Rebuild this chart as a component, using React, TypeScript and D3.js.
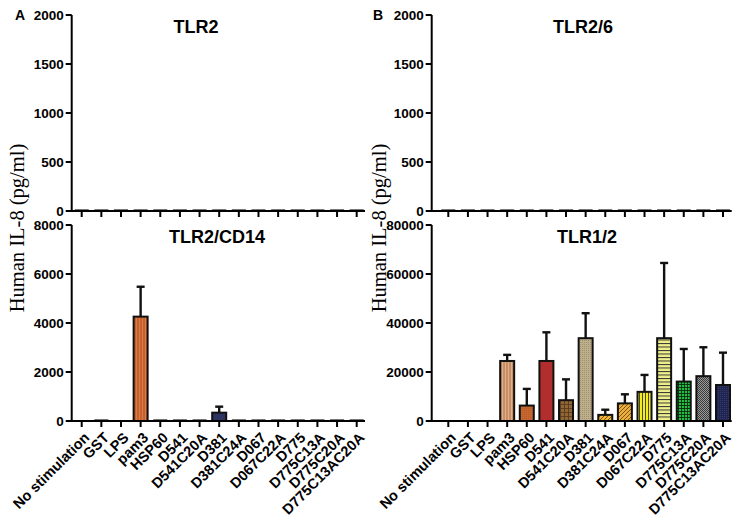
import React from 'react';
import * as d3 from 'd3';

const categories = ['No stimulation', 'GST', 'LPS', 'pam3', 'HSP60', 'D541', 'D541C20A', 'D381', 'D381C24A', 'D067', 'D067C22A', 'D775', 'D775C13A', 'D775C20A', 'D775C13AC20A'];

const tlr2Values = [8, 9, 7, 14, 8, 9, 8, 9, 8, 8, 9, 8, 8, 9, 8];
const tlr2Errors = [0, 0, 0, 0, 0, 0, 0, 0, 0, 0, 0, 0, 0, 0, 0];
const tlr26Values = [8, 8, 8, 9, 8, 8, 8, 8, 8, 8, 8, 8, 8, 8, 8];
const tlr26Errors = [0, 0, 0, 0, 0, 0, 0, 0, 0, 0, 0, 0, 0, 0, 0];
const tlr2cd14Values = [0, 25, 0, 4260, 20, 20, 20, 340, 20, 20, 20, 20, 20, 20, 20];
const tlr2cd14Errors = [0, 0, 0, 1220, 0, 0, 0, 245, 0, 0, 0, 0, 0, 0, 0];
const tlr12Values = [0, 0, 0, 24500, 6300, 24500, 8500, 33800, 2500, 7200, 11900, 33800, 16100, 18300, 14700];
const tlr12Errors = [0, 0, 0, 2500, 6800, 11700, 8500, 10200, 2100, 3700, 6900, 30700, 13300, 11800, 13200];

const smallTicks = [0, 500, 1000, 1500, 2000];
const cd14Ticks = [0, 2000, 4000, 6000, 8000];
const tlr12Ticks = [0, 20000, 40000, 60000, 80000];

const leftFills = ['#666', '#666', '#666', 'url(#p-pamL)', '#666', '#666', '#666', '#2E3462', '#666', '#666', '#666', '#666', '#666', '#666', '#666'];
const rightFills = ['#666', '#666', '#666', 'url(#p-pam3)', 'url(#p-hsp60)', '#B22D2D', 'url(#p-d541c)', 'url(#p-d381)', 'url(#p-d381c)', 'url(#p-d067)', 'url(#p-d067c)', 'url(#p-d775)', 'url(#p-d775c13)', 'url(#p-d775c20)', 'url(#p-d775cc)'];

type PanelProps = {
  axisX: number; firstX: number; lastX: number; endX: number;
  yTop: number; yBottom: number; maxV: number; ticks: number[];
  values: number[]; errors: number[]; fills: string[]; title: string; titleX: number;
  labels: boolean;
};

const font = 'Liberation Sans, Arial, sans-serif';

function Panel(p: PanelProps) {
  const x = d3.scalePoint<string>().domain(categories).range([p.firstX, p.lastX]);
  const y = d3.scaleLinear().domain([0, p.maxV]).range([p.yBottom, p.yTop]);
  const bw = 14;
  return (
    <g>
      {categories.map((c, i) => {
        const v = p.values[i];
        if (!v) return null;
        const cx = x(c) as number;
        const top = y(v);
        const h = p.yBottom - top;
        const big = h > 3;
        const e = p.errors[i];
        return (
          <g key={c}>
            {e > 0 && (
              <g stroke="#111" strokeWidth={2.4}>
                <line x1={cx} x2={cx} y1={top} y2={y(v + e)} />
                <line x1={cx - 4} x2={cx + 4} y1={y(v + e)} y2={y(v + e)} />
              </g>
            )}
            {big ? (
              <rect x={cx - bw / 2} y={top} width={bw} height={h} fill={p.fills[i]} stroke="#111" strokeWidth={2} />
            ) : (
              <rect x={cx - bw / 2} y={Math.min(top, p.yBottom - 2)} width={bw} height={Math.max(h, 2)} fill="#777" />
            )}
          </g>
        );
      })}
      <g stroke="#000" strokeWidth={2}>
        <line x1={p.axisX} x2={p.axisX} y1={p.yTop} y2={p.yBottom + 1} />
        <line x1={p.axisX - 1} x2={p.endX} y1={p.yBottom} y2={p.yBottom} />
        {p.ticks.map((t) => (
          <line key={t} x1={p.axisX - 6} x2={p.axisX} y1={y(t)} y2={y(t)} />
        ))}
        {categories.map((c) => (
          <line key={c} x1={x(c)} x2={x(c)} y1={p.yBottom} y2={p.yBottom + 6} />
        ))}
      </g>
      {p.ticks.map((t) => (
        <text key={t} x={p.axisX - 8} y={y(t)} dy="0.36em" textAnchor="end" fontFamily={font} fontWeight="bold" fontSize={13.5}>{t}</text>
      ))}
      <text x={p.titleX} y={p.yTop + 18} textAnchor="middle" fontFamily={font} fontWeight="bold" fontSize={18}>{p.title}</text>
      {p.labels && categories.map((c) => (
        <text key={c} transform={`translate(${(x(c) as number) + 5},${p.yBottom + 14}) rotate(-45)`} textAnchor="end" dy="0.35em" fontFamily={font} fontWeight="bold" fontSize={14.5}>{c}</text>
      ))}
    </g>
  );
}

export default function App() {
  const left = { axisX: 71.7, firstX: 81.7, lastX: 356.7, endX: 365 };
  const right = { axisX: 431.7, firstX: 448.3, lastX: 723, endX: 731.7 };
  const top = { yTop: 15, yBottom: 211 };
  const bot = { yTop: 225, yBottom: 421 };
  return (
    <svg width={737} height={523} style={{ position: 'absolute', left: 0, top: 0, background: '#fff' }}>
      <defs>
        <pattern id="p-pamL" width={3} height={10} patternUnits="userSpaceOnUse">
          <rect width={3} height={10} fill="#C8602E" />
          <line x1={1.5} x2={1.5} y1={0} y2={10} stroke="#D9844F" strokeWidth={0.8} />
        </pattern>
        <pattern id="p-pam3" width={3} height={10} patternUnits="userSpaceOnUse">
          <rect width={3} height={10} fill="#C78E66" />
          <line x1={1.5} x2={1.5} y1={0} y2={10} stroke="#E2B48E" strokeWidth={0.9} />
        </pattern>
        <pattern id="p-hsp60" width={2} height={2} patternUnits="userSpaceOnUse">
          <rect width={2} height={2} fill="#C4662F" />
          <rect width={1} height={1} fill="#B95A28" />
        </pattern>
        <pattern id="p-d541c" width={4} height={4} patternUnits="userSpaceOnUse">
          <rect width={4} height={4} fill="#8E6638" />
          <line x1={0} x2={4} y1={0.5} y2={0.5} stroke="#5A3B1A" strokeWidth={0.9} />
          <line x1={0.5} x2={0.5} y1={0} y2={4} stroke="#5A3B1A" strokeWidth={0.9} />
        </pattern>
        <pattern id="p-d381" width={2} height={2} patternUnits="userSpaceOnUse">
          <rect width={2} height={2} fill="#BDAE8C" />
          <rect width={1} height={1} fill="#A0916F" />
        </pattern>
        <pattern id="p-d381c" width={4} height={4} patternUnits="userSpaceOnUse">
          <rect width={4} height={4} fill="#F2B636" />
          <path d="M-1,1 l2,-2 M0,4 l4,-4 M3,5 l2,-2" stroke="#6A4A10" strokeWidth={0.9} />
        </pattern>
        <pattern id="p-d067" width={4} height={4} patternUnits="userSpaceOnUse">
          <rect width={4} height={4} fill="#EEAE3A" />
          <path d="M-1,1 l2,-2 M0,4 l4,-4 M3,5 l2,-2" stroke="#6A4A10" strokeWidth={0.9} />
        </pattern>
        <pattern id="p-d067c" width={3} height={10} patternUnits="userSpaceOnUse">
          <rect width={3} height={10} fill="#F3EC1E" />
          <line x1={0.5} x2={0.5} y1={0} y2={10} stroke="#333" strokeWidth={0.9} />
        </pattern>
        <pattern id="p-d775" width={10} height={3.5} patternUnits="userSpaceOnUse">
          <rect width={10} height={3.5} fill="#EFEF8C" />
          <line x1={0} x2={10} y1={0.5} y2={0.5} stroke="#333" strokeWidth={1} />
        </pattern>
        <pattern id="p-d775c13" width={3} height={3} patternUnits="userSpaceOnUse">
          <rect width={3} height={3} fill="#1FC244" />
          <line x1={0} x2={3} y1={0.5} y2={0.5} stroke="#0A2A10" strokeWidth={0.9} />
          <line x1={0.5} x2={0.5} y1={0} y2={3} stroke="#0A2A10" strokeWidth={0.9} />
        </pattern>
        <pattern id="p-d775c20" width={2} height={2} patternUnits="userSpaceOnUse">
          <rect width={2} height={2} fill="#9A9A9A" />
          <rect width={1} height={1} fill="#3A3A3A" />
          <rect x={1} y={1} width={1} height={1} fill="#3A3A3A" />
        </pattern>
        <pattern id="p-d775cc" width={2} height={2} patternUnits="userSpaceOnUse">
          <rect width={2} height={2} fill="#1F2550" />
          <rect width={1} height={1} fill="#353B6A" />
        </pattern>
      </defs>
      <Panel {...left} {...top} maxV={2000} ticks={smallTicks} values={tlr2Values} errors={tlr2Errors} fills={leftFills} title="TLR2" titleX={196} labels={false} />
      <Panel {...left} {...bot} maxV={8000} ticks={cd14Ticks} values={tlr2cd14Values} errors={tlr2cd14Errors} fills={leftFills} title="TLR2/CD14" titleX={217} labels={true} />
      <Panel {...right} {...top} maxV={2000} ticks={smallTicks} values={tlr26Values} errors={tlr26Errors} fills={rightFills} title="TLR2/6" titleX={583} labels={false} />
      <Panel {...right} {...bot} maxV={80000} ticks={tlr12Ticks} values={tlr12Values} errors={tlr12Errors} fills={rightFills} title="TLR1/2" titleX={587} labels={true} />
      <text x={15} y={20} fontFamily={font} fontWeight="bold" fontSize={14}>A</text>
      <text x={373} y={20} fontFamily={font} fontWeight="bold" fontSize={14}>B</text>
      <text transform="translate(24,228) rotate(-90)" textAnchor="middle" fontFamily="Liberation Serif, Times New Roman, serif" fontSize={20.5}>Human IL-8 (pg/ml)</text>
      <text transform="translate(386,228) rotate(-90)" textAnchor="middle" fontFamily="Liberation Serif, Times New Roman, serif" fontSize={20.5}>Human IL-8 (pg/ml)</text>
    </svg>
  );
}
